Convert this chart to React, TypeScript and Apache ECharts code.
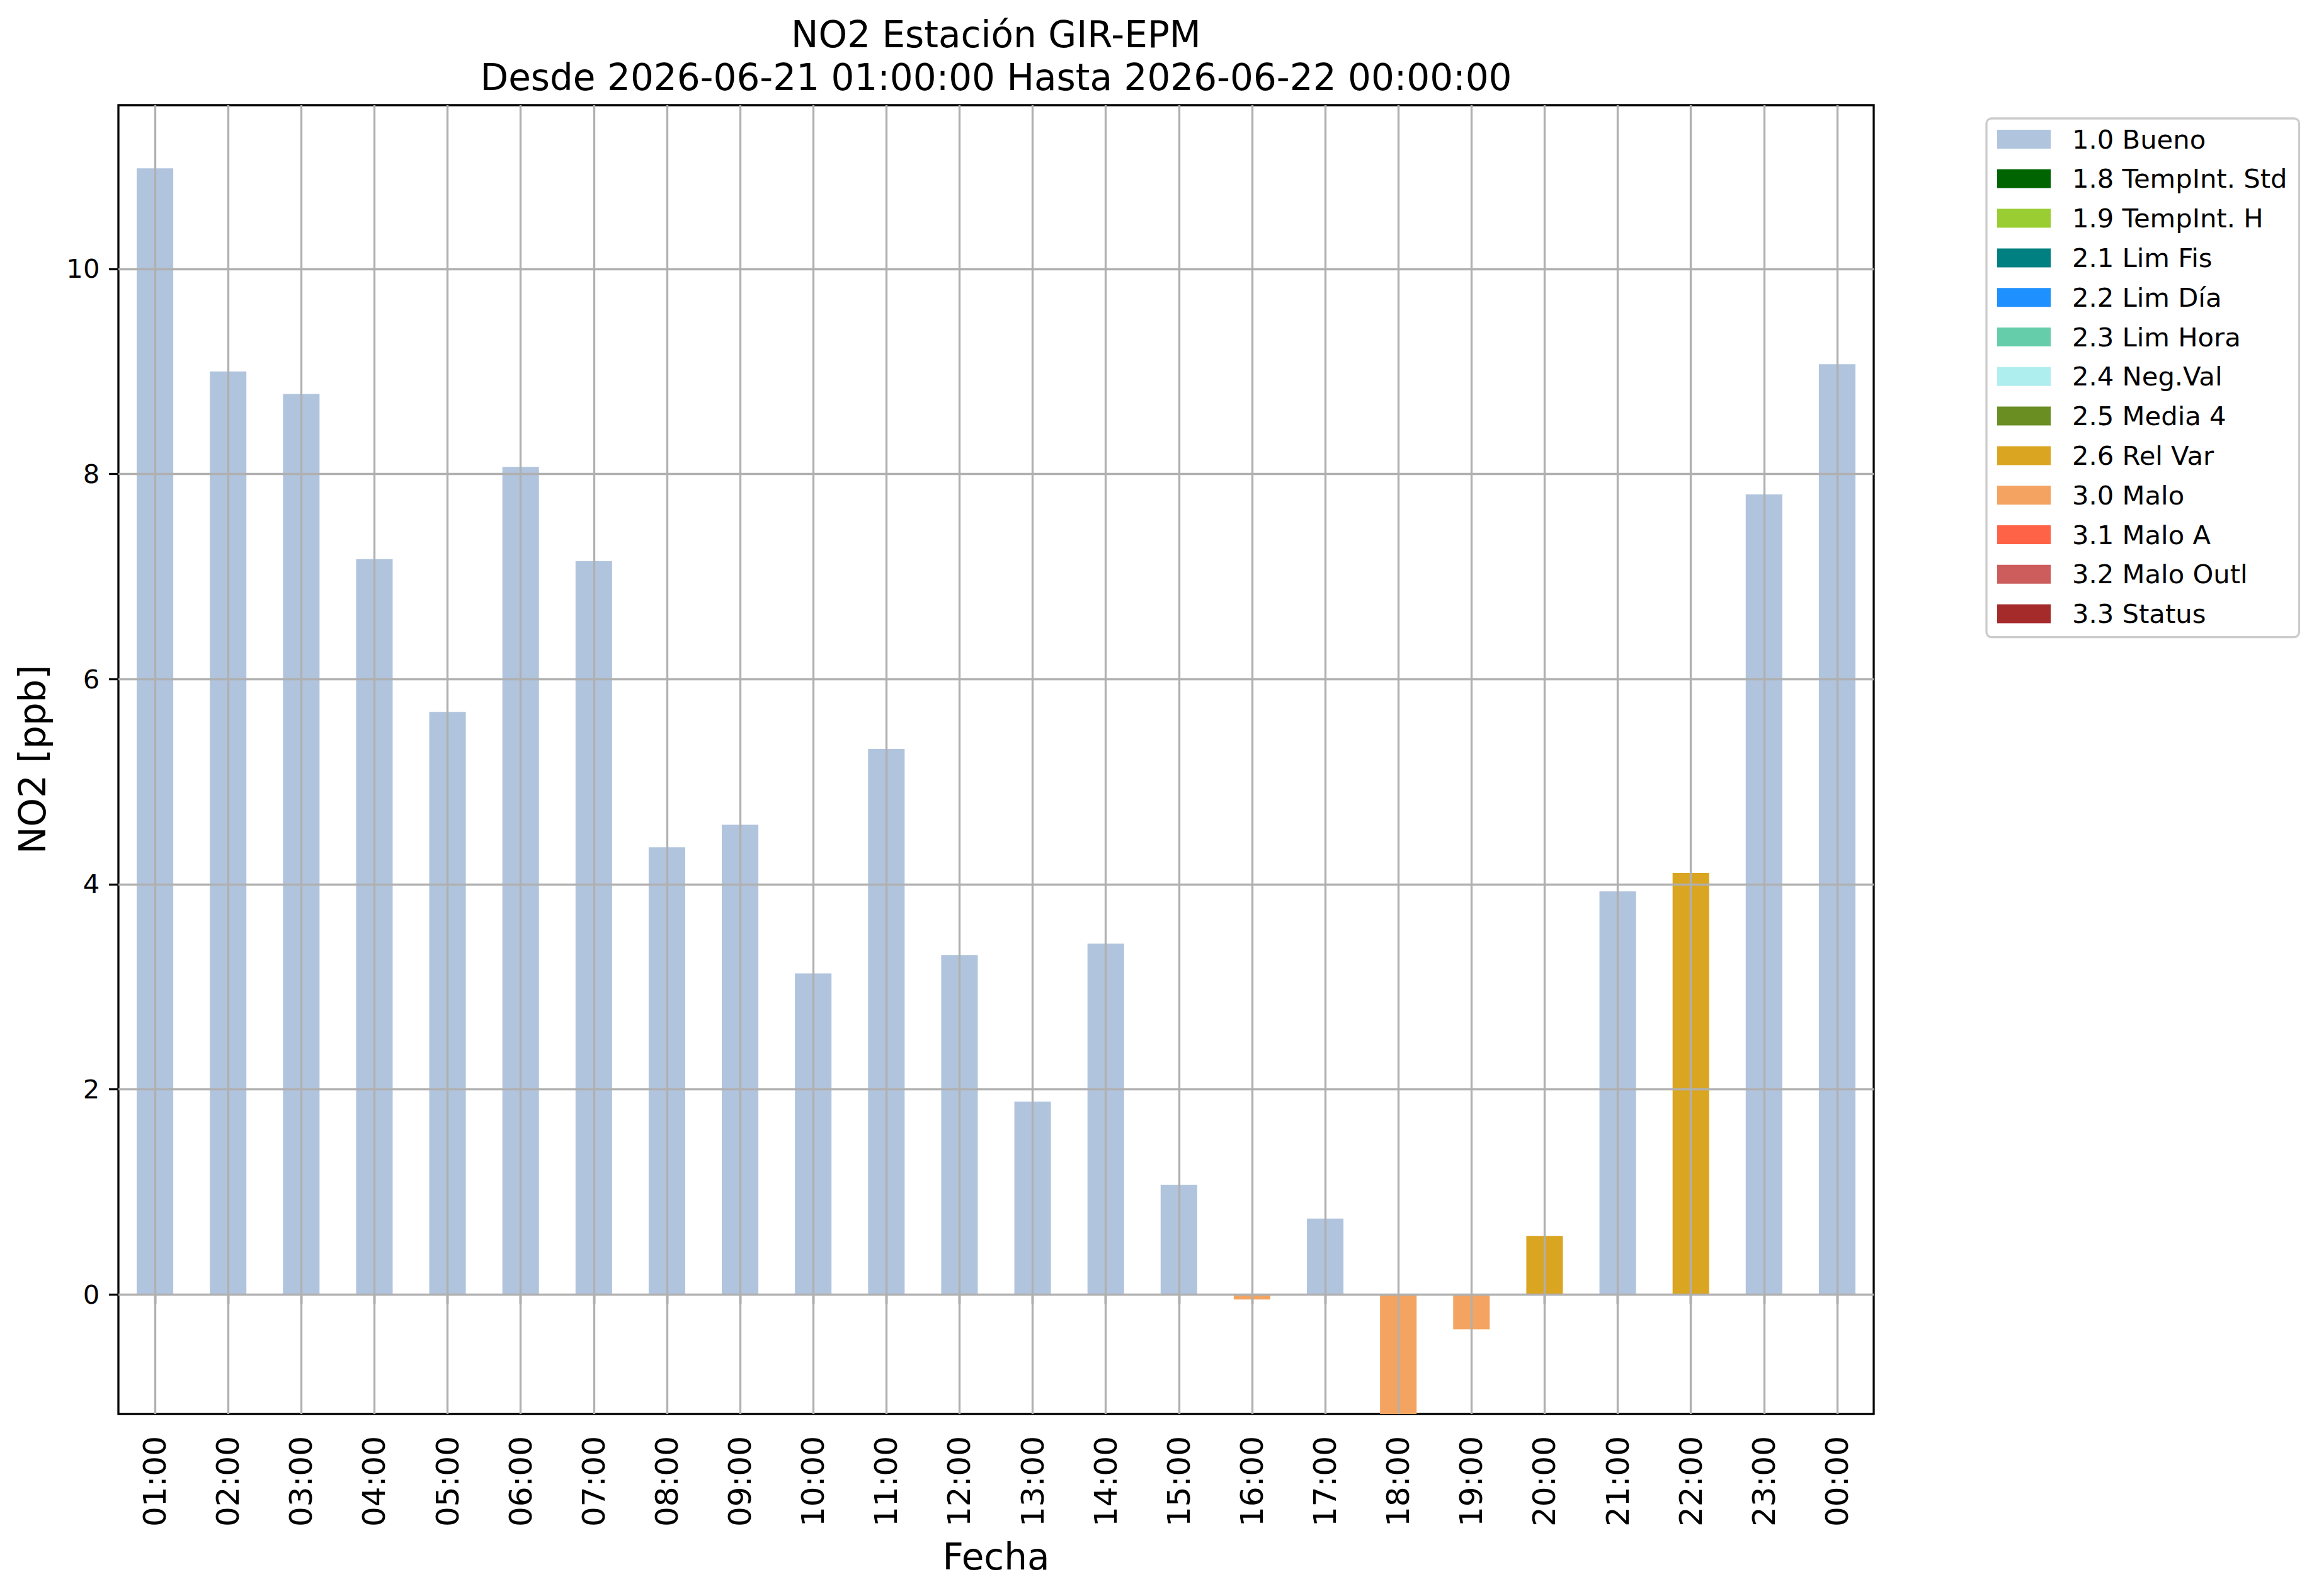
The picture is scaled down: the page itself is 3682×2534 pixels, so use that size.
import React, { useEffect, useRef } from "react";
import * as echarts from "echarts";

const categories = [
  "01:00", "02:00", "03:00", "04:00", "05:00", "06:00", "07:00", "08:00",
  "09:00", "10:00", "11:00", "12:00", "13:00", "14:00", "15:00", "16:00",
  "17:00", "18:00", "19:00", "20:00", "21:00", "22:00", "23:00", "00:00",
];
const values = [
  10.98, 9.0, 8.78, 7.17, 5.68, 8.07, 7.15, 4.36,
  4.58, 3.13, 5.32, 3.31, 1.88, 3.42, 1.07, -0.05,
  0.74, -1.17, -0.34, 0.57, 3.93, 4.11, 7.8, 9.07,
];
const flags = [
  "1.0", "1.0", "1.0", "1.0", "1.0", "1.0", "1.0", "1.0",
  "1.0", "1.0", "1.0", "1.0", "1.0", "1.0", "1.0", "3.0",
  "1.0", "3.0", "3.0", "2.6", "1.0", "2.6", "1.0", "1.0",
];
const flagCodes = ["1.0", "1.8", "1.9", "2.1", "2.2", "2.3", "2.4", "2.5", "2.6", "3.0", "3.1", "3.2", "3.3"];
const flagNames = [
  "1.0 Bueno", "1.8 TempInt. Std", "1.9 TempInt. H", "2.1 Lim Fis", "2.2 Lim Día",
  "2.3 Lim Hora", "2.4 Neg.Val", "2.5 Media 4", "2.6 Rel Var", "3.0 Malo",
  "3.1 Malo A", "3.2 Malo Outl", "3.3 Status",
];
const flagColors = [
  "#B0C4DE", "#006400", "#9ACD32", "#008080", "#1E90FF", "#66CDAA", "#AFEEEE",
  "#6B8E23", "#DAA520", "#F4A460", "#FF6347", "#CD5C5C", "#A52A2A",
];
const yTicks = [0, 2, 4, 6, 8, 10];
const titleLine1 = "NO2 Estación GIR-EPM";
const titleLine2 = "Desde 2026-06-21 01:00:00 Hasta 2026-06-22 00:00:00";
const yLabel = "NO2 [ppb]";
const xLabel = "Fecha";

const FONT = "DejaVu Sans";
const W = 3682;
const H = 2534;
const G_LEFT = 188;
const G_TOP = 167;
const G_RIGHT = 2975;
const G_BOTTOM = 2245;

export default function App() {
  const ref = useRef<HTMLDivElement>(null);
  useEffect(() => {
    if (!ref.current) return;
    const chart = echarts.init(ref.current, null, { renderer: "svg" });
    const barSeries = flagCodes.map((code, k) => ({
      name: flagNames[k],
      type: "bar",
      stack: "q",
      barWidth: "50%",
      clip: true,
      itemStyle: { color: flagColors[k] },
      data: values.map((v, i) => (flags[i] === code ? v : "-")),
    }));
    const gridSeries = {
      name: "grid",
      type: "line",
      data: categories.map(() => "-"),
      silent: true,
      markLine: {
        silent: true,
        symbol: ["none", "none"],
        z: 5,
        label: { show: false },
        lineStyle: { color: "#b0b0b0", width: 3.3, type: "solid" },
        emphasis: { disabled: true },
        data: [
          ...categories.map((c) => ({ xAxis: c })),
          ...yTicks.map((v) => ({ yAxis: v })),
        ],
      },
    };
    chart.setOption({
      animation: false,
      backgroundColor: "#ffffff",
      grid: {
        left: G_LEFT,
        top: G_TOP,
        width: G_RIGHT - G_LEFT,
        height: G_BOTTOM - G_TOP,
        show: true,
        borderColor: "#000000",
        borderWidth: 3.3,
        backgroundColor: "transparent",
      },
      legend: {
        data: flagNames,
        orient: "vertical",
        left: 3154,
        top: 188,
        padding: [12, 19, 16, 17],
        icon: "rect",
        itemWidth: 85,
        itemHeight: 30,
        itemGap: 20.8,
        selectedMode: false,
        borderColor: "#cccccc",
        borderWidth: 3.3,
        borderRadius: 8,
        backgroundColor: "#ffffff",
        textStyle: {
          fontFamily: FONT,
          fontSize: 41.7,
          color: "#000000",
          lineHeight: 30,
          padding: [0, 0, 0, 29],
        },
      },
      xAxis: {
        type: "category",
        data: categories,
        boundaryGap: true,
        axisLine: { show: false },
        axisTick: {
          show: true,
          alignWithLabel: true,
          length: 15,
          lineStyle: { color: "#000000", width: 3.3 },
        },
        axisLabel: {
          interval: 0,
          rotate: 90,
          fontFamily: FONT,
          fontSize: 50,
          color: "#000000",
          margin: 35,
        },
        splitLine: { show: false },
      },
      yAxis: {
        type: "value",
        min: -1.166,
        max: 11.596,
        axisLine: { show: false },
        axisTick: {
          show: true,
          length: 15,
          customValues: yTicks,
          lineStyle: { color: "#000000", width: 3.3 },
        },
        axisLabel: {
          fontFamily: FONT,
          fontSize: 41.7,
          color: "#000000",
          margin: 29.6,
          customValues: yTicks,
        },
        splitLine: { show: false },
      },
      graphic: [
        {
          type: "text",
          x: (G_LEFT + G_RIGHT) / 2,
          y: 55,
          style: {
            text: titleLine1,
            fontFamily: FONT,
            fontSize: 58,
            fill: "#000000",
            textAlign: "center",
            textVerticalAlign: "middle",
          },
        },
        {
          type: "text",
          x: (G_LEFT + G_RIGHT) / 2,
          y: 123,
          style: {
            text: titleLine2,
            fontFamily: FONT,
            fontSize: 58,
            fill: "#000000",
            textAlign: "center",
            textVerticalAlign: "middle",
          },
        },
        {
          type: "text",
          x: 52,
          y: (G_TOP + G_BOTTOM) / 2,
          rotation: Math.PI / 2,
          style: {
            text: yLabel,
            fontFamily: FONT,
            fontSize: 58,
            fill: "#000000",
            textAlign: "center",
            textVerticalAlign: "middle",
          },
        },
        {
          type: "text",
          x: (G_LEFT + G_RIGHT) / 2,
          y: 2472,
          style: {
            text: xLabel,
            fontFamily: FONT,
            fontSize: 58,
            fill: "#000000",
            textAlign: "center",
            textVerticalAlign: "middle",
          },
        },
      ],
      series: [...barSeries, gridSeries],
    });
    return () => chart.dispose();
  }, []);
  return (
    <div
      ref={ref}
      style={{ position: "fixed", left: 0, top: 0, width: W, height: H, background: "#fff" }}
    />
  );
}
